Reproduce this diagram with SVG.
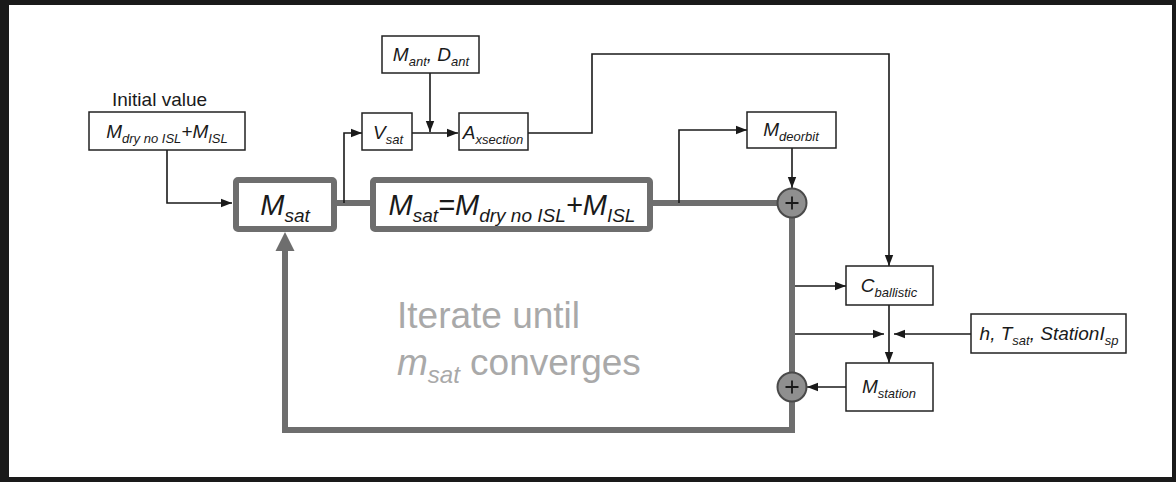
<svg xmlns="http://www.w3.org/2000/svg" width="1176" height="482" viewBox="0 0 1176 482">
<style>
text{font-family:"Liberation Sans",Arial,sans-serif;fill:#1a1a1a}
.m{font-style:italic}
.box{fill:#fff;stroke:#222;stroke-width:1.5}
.tbox{fill:#fff;stroke:#6e6e6e;stroke-width:6}
.thin{fill:none;stroke:#1a1a1a;stroke-width:1.6}
.thick{fill:none;stroke:#6e6e6e;stroke-width:6}
.sum{fill:#8f8f8f;stroke:#4a4a4a;stroke-width:2}
.plus{stroke:#1a1a1a;stroke-width:1.8;fill:none}
.s{font-size:19px}
.ss{font-size:13px}
.big{font-size:29px}
.bs{font-size:19px}
.it{font-size:37px;fill:#a9a9a9}
.its{font-size:24px;fill:#a9a9a9}
</style>
<defs>
<marker id="ah" viewBox="0 0 11 10" refX="11" refY="5" markerWidth="11" markerHeight="10" markerUnits="userSpaceOnUse" orient="auto">
<path d="M0,0.8 L11,5 L0,9.2 Z" fill="#1a1a1a"/>
</marker>
</defs>
<rect width="1176" height="482" fill="#fff"/>
<path d="M0,0 H1176 V482 H0 Z M9,5 V477 H1172 V5 Z" fill="#1a1a1a" fill-rule="evenodd"/>

<g id="connectors">
<path class="thick" d="M337,203 H373"/>
<path class="thick" d="M650,203 H778"/>
<path class="thick" d="M792,217 V430 H285 V250"/>
<polygon points="285,232 275.5,251 294.5,251" fill="#6e6e6e"/>
<path class="thin" d="M167,150 V203 H232" marker-end="url(#ah)"/>
<path class="thin" d="M344,203 V133 H362" marker-end="url(#ah)"/>
<path class="thin" d="M412,133 H458" marker-end="url(#ah)"/>
<path class="thin" d="M430,73 V132" marker-end="url(#ah)"/>
<path class="thin" d="M528,133 H592 V54 H889 V266" marker-end="url(#ah)"/>
<path class="thin" d="M679,203 V130 H747" marker-end="url(#ah)"/>
<path class="thin" d="M792,148 V188" marker-end="url(#ah)"/>
<path class="thin" d="M795,286 H846" marker-end="url(#ah)"/>
<path class="thin" d="M795,334 H884" marker-end="url(#ah)"/>
<path class="thin" d="M971,334 H894" marker-end="url(#ah)"/>
<path class="thin" d="M889,305 V363" marker-end="url(#ah)"/>
<path class="thin" d="M846,387 H807" marker-end="url(#ah)"/>
</g>

<g id="initial">
<text x="112" y="106" font-size="19">Initial value</text>
<rect class="box" x="89" y="112" width="156" height="38"/>
<text class="m s" x="167" y="138" text-anchor="middle">M<tspan class="ss" dy="5">dry no ISL</tspan><tspan dy="-5">+M</tspan><tspan class="ss" dy="5">ISL</tspan></text>
</g>

<g id="msat">
<rect class="tbox" x="236" y="180" width="98" height="49" rx="2"/>
<text class="m big" x="285" y="215" text-anchor="middle">M<tspan class="bs" dy="7">sat</tspan></text>
</g>

<g id="msat-eq">
<rect class="tbox" x="373" y="180" width="277" height="49" rx="2"/>
<text class="m big" x="512" y="215" text-anchor="middle">M<tspan class="bs" dy="7">sat</tspan><tspan dy="-7">=M</tspan><tspan class="bs" dy="7">dry no ISL</tspan><tspan dy="-7">+M</tspan><tspan class="bs" dy="7">ISL</tspan></text>
</g>

<g id="vsat">
<rect class="box" x="362" y="113" width="50" height="37"/>
<text class="m s" x="388" y="139" text-anchor="middle">V<tspan class="ss" dy="5">sat</tspan></text>
</g>

<g id="mant">
<rect class="box" x="382" y="36" width="97" height="37"/>
<text class="m s" x="431" y="61" text-anchor="middle">M<tspan class="ss" dy="5">ant</tspan><tspan dy="-5">, D</tspan><tspan class="ss" dy="5">ant</tspan></text>
</g>

<g id="axsection">
<rect class="box" x="459" y="113" width="69" height="37"/>
<text class="m s" x="493" y="139" text-anchor="middle">A<tspan class="ss" dy="5">xsection</tspan></text>
</g>

<g id="mdeorbit">
<rect class="box" x="747" y="112" width="89" height="36"/>
<text class="m s" x="791" y="136" text-anchor="middle">M<tspan class="ss" dy="5">deorbit</tspan></text>
</g>

<g id="sum1">
<circle class="sum" cx="792" cy="203" r="14.5"/>
<path class="plus" d="M785.5,203 H798.5 M792,196.5 V209.5"/>
</g>

<g id="sum2">
<circle class="sum" cx="792" cy="387" r="14.5"/>
<path class="plus" d="M785.5,387 H798.5 M792,380.5 V393.5"/>
</g>

<g id="cballistic">
<rect class="box" x="846" y="266" width="87" height="39"/>
<text class="m s" x="889" y="292" text-anchor="middle">C<tspan class="ss" dy="5">ballistic</tspan></text>
</g>

<g id="params">
<rect class="box" x="971" y="314" width="155" height="39"/>
<text class="m s" x="1049" y="340" text-anchor="middle">h, T<tspan class="ss" dy="5">sat</tspan><tspan dy="-5">, StationI</tspan><tspan class="ss" dy="5">sp</tspan></text>
</g>

<g id="mstation">
<rect class="box" x="846" y="363" width="87" height="48"/>
<text class="m s" x="889" y="393" text-anchor="middle">M<tspan class="ss" dy="5">station</tspan></text>
</g>

<g id="note">
<text class="it" x="397" y="328">Iterate until</text>
<text class="it" x="397" y="375"><tspan class="m">m</tspan><tspan class="m its" dy="8">sat</tspan><tspan dy="-8"> converges</tspan></text>
</g>
</svg>
